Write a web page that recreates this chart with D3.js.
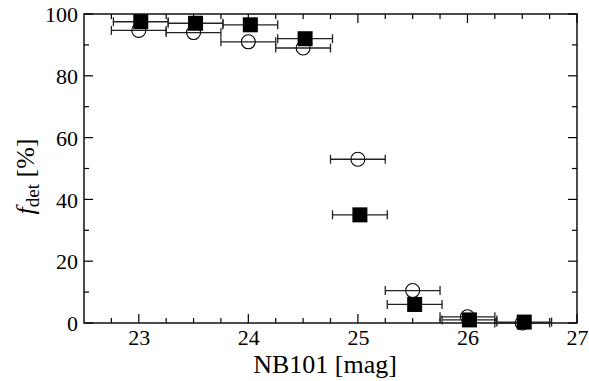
<!DOCTYPE html>
<html><head><meta charset="utf-8">
<script src="https://cdn.jsdelivr.net/npm/d3@7"></script>
<style>body{margin:0;background:#fff}svg{display:block}</style>
</head><body>
<svg id="c" width="589" height="381" font-family="Liberation Serif"></svg>
<script>
const mags = [23, 23.5, 24, 24.5, 25, 25.5, 26, 26.5];
const binHalf = 0.25;
const openVals = [94.7, 94.0, 91.0, 89.0, 53.0, 10.5, 2.0, 0.0];
const filledVals = [97.5, 97.0, 96.5, 92.0, 35.0, 6.0, 1.0, 0.3];
const xTicks = [23, 24, 25, 26, 27];
const yTicks = [0, 20, 40, 60, 80, 100];

const svg = d3.select("#c");
const L = 84, R = 577, T = 14, B = 323;
const x = d3.scaleLinear().domain([22.5, 27]).range([L, R]);
const y = d3.scaleLinear().domain([0, 100]).range([B, T]);
const col = "#000";
const serif = "Liberation Serif";

svg.append("rect").attr("x", L).attr("y", T).attr("width", R - L).attr("height", B - T)
  .attr("fill", "none").attr("stroke", col).attr("stroke-width", 1.4);

const xMinor = d3.range(22.75, 27, 0.25).filter(v => !xTicks.some(t => Math.abs(t - v) < 1e-6));
const yMinor = d3.range(10, 100, 20);

function ticks(g, vals, len, isX) {
  vals.forEach(v => {
    if (isX) {
      g.append("line").attr("x1", x(v)).attr("x2", x(v)).attr("y1", B).attr("y2", B - len);
      g.append("line").attr("x1", x(v)).attr("x2", x(v)).attr("y1", T).attr("y2", T + len);
    } else {
      g.append("line").attr("y1", y(v)).attr("y2", y(v)).attr("x1", L).attr("x2", L + len);
      g.append("line").attr("y1", y(v)).attr("y2", y(v)).attr("x1", R).attr("x2", R - len);
    }
  });
}
const tg = svg.append("g").attr("stroke", col).attr("stroke-width", 1.2);
ticks(tg, xTicks, 9, true);
ticks(tg, xMinor, 5, true);
ticks(tg, yTicks, 9, false);
ticks(tg, yMinor, 5, false);

const xa = svg.append("g").attr("transform", `translate(0,${B})`)
  .call(d3.axisBottom(x).tickValues(xTicks).tickSize(0).tickPadding(5).tickFormat(d3.format("d")));
xa.select(".domain").remove();
xa.attr("font-family", serif).attr("font-size", 22);
xa.selectAll("text").attr("font-family", serif).attr("font-size", 22).attr("fill", col).attr("dy", "0.75em");
const ya = svg.append("g").attr("transform", `translate(${L},0)`)
  .call(d3.axisLeft(y).tickValues(yTicks).tickSize(0).tickPadding(6).tickFormat(d3.format("d")));
ya.select(".domain").remove();
ya.attr("font-family", serif).attr("font-size", 22);
ya.selectAll("text").attr("font-family", serif).attr("font-size", 22).attr("fill", col).attr("dy", "0.35em");

svg.append("text").attr("x", 325).attr("y", 373).attr("text-anchor", "middle")
  .attr("font-family", serif).attr("font-size", 26).attr("fill", col).text("NB101 [mag]");

const yl = svg.append("text").attr("transform", `translate(34,${(T + B) / 2 + 8}) rotate(-90)`)
  .attr("text-anchor", "middle").attr("font-family", serif).attr("font-size", 26).attr("fill", col);
yl.append("tspan").attr("font-style", "italic").text("f");
yl.append("tspan").attr("font-size", 19).attr("dy", 5).text("det");
yl.append("tspan").attr("dy", -5).text(" [%]");

function series(vals, dx, kind) {
  const g = svg.append("g");
  mags.forEach((m, i) => {
    const cy = y(vals[i]);
    const x0 = x(m - binHalf) + dx, x1 = x(m + binHalf) + dx;
    const eg = g.append("g").attr("stroke", "#222").attr("stroke-width", 1.3);
    eg.append("line").attr("x1", x0).attr("x2", x1).attr("y1", cy).attr("y2", cy);
    eg.append("line").attr("x1", x0).attr("x2", x0).attr("y1", cy - 4.5).attr("y2", cy + 4.5);
    eg.append("line").attr("x1", x1).attr("x2", x1).attr("y1", cy - 4.5).attr("y2", cy + 4.5);
    const cx = x(m) + dx;
    if (kind === "circle") {
      g.append("circle").attr("cx", cx).attr("cy", cy).attr("r", 7)
        .attr("fill", "none").attr("stroke", col).attr("stroke-width", 1.1);
    } else {
      g.append("rect").attr("x", cx - 7.5).attr("y", cy - 7.5).attr("width", 15).attr("height", 15)
        .attr("fill", col);
    }
  });
}
series(openVals, 0, "circle");
series(filledVals, 2, "square");
</script>
</body></html>
